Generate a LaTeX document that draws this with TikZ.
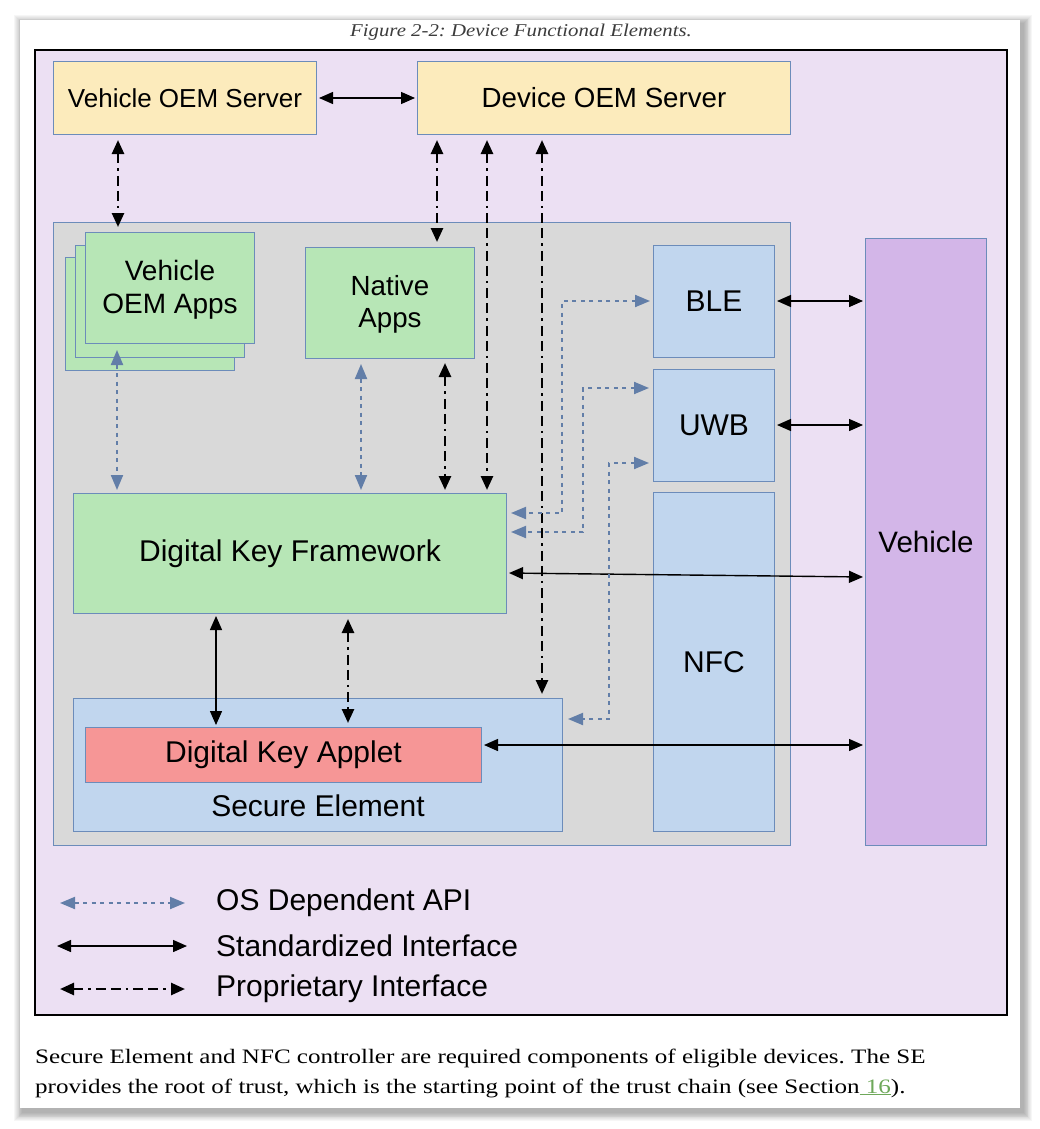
\documentclass[tikz,border=0pt]{standalone}
\usepackage{fontspec}
\setmainfont[FakeStretch=1.223]{Liberation Serif}
\newfontfamily\captfont[FakeStretch=1.155]{Liberation Serif}
\newfontfamily\diagfont{Liberation Sans}
\usetikzlibrary{arrows.meta}
\frenchspacing

\definecolor{framebg}{RGB}{236,224,243}
\definecolor{edge}{RGB}{108,140,186}
\definecolor{srvfill}{RGB}{252,235,188}
\definecolor{appfill}{RGB}{183,230,182}
\definecolor{hwfill}{RGB}{193,214,238}
\definecolor{devfill}{RGB}{217,217,217}
\definecolor{carfill}{RGB}{211,182,232}
\definecolor{appletfill}{RGB}{246,150,150}
\definecolor{apiblue}{RGB}{98,126,168}
\definecolor{captgray}{RGB}{60,60,60}
\definecolor{linkgreen}{RGB}{110,168,90}

\tikzset{
  blk/.style={draw=edge, line width=1pt, inner sep=0pt, align=center, anchor=north west,
    font=\diagfont\fontsize{28}{33}\selectfont},
  big/.style={font=\diagfont\fontsize{30}{34}\selectfont},
  srv/.style={blk, fill=srvfill},
  app/.style={blk, fill=appfill},
  hw/.style={blk, fill=hwfill, big},
  trim/.style={shorten <=#1, shorten >=#1},
  std/.style={line width=1.4pt, {Triangle[length=14pt,width=12pt]}-{Triangle[length=14pt,width=12pt]}},
  prop/.style={line width=2.6pt, dash pattern=on 10pt off 5pt on 2.5pt off 5pt on 10pt off 5pt,
    {Triangle[length=14pt,width=12pt]}-{Triangle[length=14pt,width=12pt]}},
  osapi/.style={draw=apiblue, line width=2pt, dash pattern=on 4pt off 4.5pt,
    {Triangle[length=15pt,width=12pt,fill=apiblue]}-{Triangle[length=15pt,width=12pt,fill=apiblue]}},
  legtxt/.style={anchor=west, inner sep=0pt, font=\diagfont\fontsize{30}{34}\selectfont},
}

\begin{document}
\begin{tikzpicture}[x=1pt, y=-1pt]
\useasboundingbox (0,0) rectangle (1040,1129);

% page with its shadow
\foreach \i in {1,...,10}
  \fill[black, opacity=0.035] (20-0.9*\i+3,20-0.9*\i+4) rectangle (1020+0.9*\i+3,1108+0.9*\i+4);
\fill[white] (20,20) rectangle (1020,1108);
\node[font=\captfont\itshape\fontsize{18}{21}\selectfont, text=captgray] (cap) at (521,32)
  {Figure 2-2: Device Functional Elements.};

% frame and device
\draw[line width=1.3pt, fill=framebg] (35,50) rectangle (1007,1015);
\draw[draw=edge, line width=1pt, fill=devfill] (53,222) rectangle (790,845);

% servers
\node[srv, minimum width=263pt, minimum height=73pt, font=\diagfont\fontsize{26}{30}\selectfont]
  (voem) at (53,61) {Vehicle OEM Server};
\node[srv, minimum width=373pt, minimum height=73pt, font=\diagfont\fontsize{27.7}{32}\selectfont]
  (doem) at (417,61) {Device OEM Server};

% apps
\draw[draw=edge, line width=1pt, fill=appfill] (65,257) rectangle (234,370);
\draw[draw=edge, line width=1pt, fill=appfill] (75,245) rectangle (244,357);
\node[app, minimum width=169pt, minimum height=111pt] (vapps) at (85,232) {\strut Vehicle\\OEM Apps};
\node[app, minimum width=169pt, minimum height=111pt, font=\diagfont\fontsize{27.7}{32.5}\selectfont]
  (napps) at (305,247) {\strut Native\\Apps};
\node[app, big, minimum width=433pt, minimum height=120pt] (dkf) at (73,493) {Digital Key Framework};

% secure element
\node[hw, minimum width=489pt, minimum height=133pt,
  label={[anchor=center, yshift=26pt, big]south:Secure Element}]
  (se) at (73,698) {};
\node[blk, big, fill=appletfill, minimum width=396pt, minimum height=55pt] (applet) at (85,727) {Digital Key Applet};

% radios and vehicle
\node[hw, minimum width=121pt, minimum height=112pt] (ble) at (653,245) {BLE};
\node[hw, minimum width=121pt, minimum height=112pt] (uwb) at (653,369) {UWB};
\node[hw, minimum width=121pt, minimum height=339pt] (nfc) at (653,492) {NFC};
\node[blk, fill=carfill, minimum width=121pt, minimum height=607pt, font=\diagfont\fontsize{29.5}{34}\selectfont]
  (car) at (865,238) {Vehicle};

% connectors
\draw[std, trim=2pt] (voem.east) -- (doem.west);
\draw[prop, trim=5pt] (voem.south -| 118,0) -- (vapps.north -| 118,0);
\draw[prop, trim=5pt] (doem.south -| 437,0) -- (napps.north -| 437,0);
\draw[prop, shorten <=5pt, shorten >=3pt] (doem.south -| 487,0) -- (dkf.north -| 487,0);
\draw[prop, shorten <=5pt, shorten >=4pt] (doem.south -| 542,0) -- (se.north -| 542,0);
\draw[osapi, shorten <=6pt, shorten >=3pt] (vapps.south -| 117,0) -- (dkf.north -| 117,0);
\draw[osapi, shorten <=5pt, shorten >=3pt] (napps.south -| 361,0) -- (dkf.north -| 361,0);
\draw[prop, shorten <=4pt, shorten >=3pt] (napps.south -| 445,0) -- (dkf.north -| 445,0);
\draw[std, trim=2pt] (dkf.south -| 216,0) -- (applet.north -| 216,0);
\draw[prop, shorten <=5pt, shorten >=4pt] (dkf.south -| 348,0) -- (applet.north -| 348,0);
\draw[std, trim=2pt] (dkf.east |- 0,573) -- (car.west |- 0,577);
\draw[std, trim=2pt] (applet.east |- 0,745) -- (car.west |- 0,745);
\draw[std, trim=2pt] (ble.east |- 0,301) -- (car.west |- 0,301);
\draw[std, trim=2pt] (uwb.east |- 0,425) -- (car.west |- 0,425);
\draw[osapi, shorten <=3pt, shorten >=4pt] (ble.west |- 0,301) -- (562,301) |- (dkf.east |- 0,513);
\draw[osapi, shorten <=4pt, shorten >=4pt] (uwb.west |- 0,388) -- (583,388) |- (dkf.east |- 0,532);
\draw[osapi, shorten <=4pt, shorten >=5pt] (uwb.west |- 0,463) -- (609,463) |- (se.east |- 0,719);

% legend
\coordinate (osa) at (60,903);  \coordinate (osb) at (185,903);
\coordinate (sta) at (57,946);  \coordinate (stb) at (187,946);
\coordinate (pra) at (60,989);  \coordinate (prb) at (185,989);
\draw[osapi] (osa) -- (osb);
\draw[std] (sta) -- (stb);
\draw[prop] (pra) -- (prb);
\node[legtxt] (osl) at (216,903) {OS Dependent API};
\node[legtxt] (stl) at (216,946) {Standardized Interface};
\node[legtxt] (prl) at (216,989) {Proprietary Interface};

% text below the figure
\node[anchor=base west, inner sep=0pt, font=\fontsize{20.5}{29}\selectfont] (txa) at (35,1063)
  {Secure Element and NFC controller are required components of eligible devices. The SE};
\node[anchor=base west, inner sep=0pt, font=\fontsize{20.5}{29}\selectfont] (txb) at (35,1093)
  {provides the root of trust, which is the starting point of the trust chain (see Section\textcolor{linkgreen}{\underline{\ 16}}).};
\end{tikzpicture}
\end{document}
